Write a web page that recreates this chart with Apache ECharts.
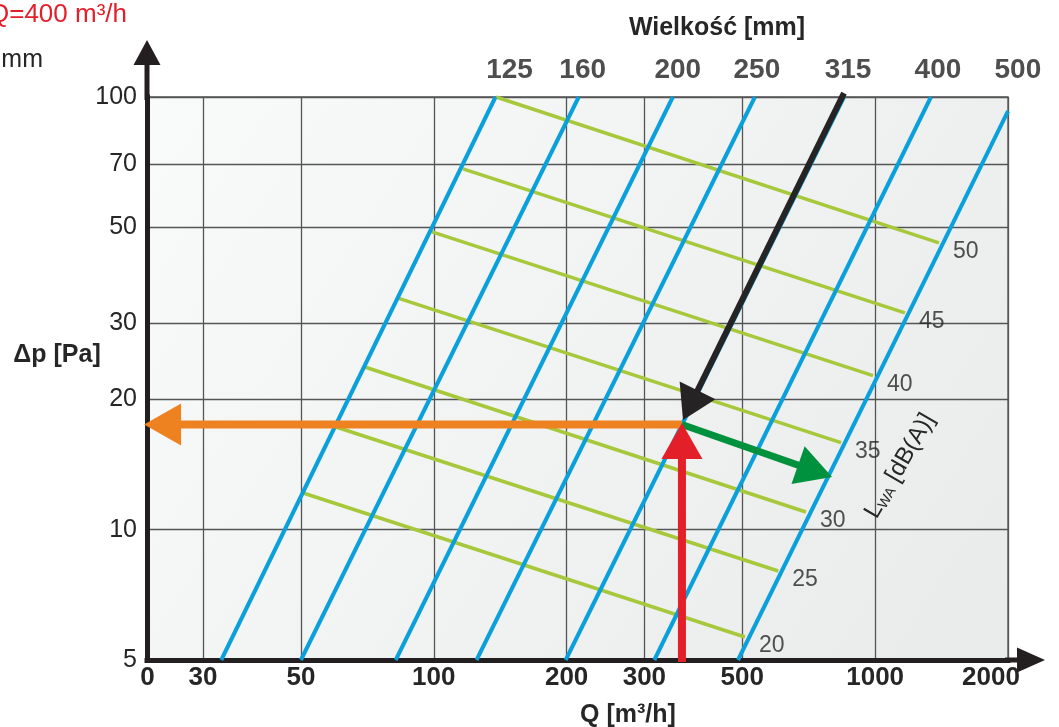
<!DOCTYPE html>
<html><head><meta charset="utf-8">
<script src="https://cdn.jsdelivr.net/npm/echarts@6/dist/echarts.min.js"></script>
<style>html,body{margin:0;padding:0;background:#fff}#c{width:1059px;height:727px}</style>
</head><body><div id="c"></div>
<script>
// ---------------- data ----------------
const xTickValues = [22.45, 30, 50, 100, 200, 300, 500, 1000, 2000];
const yTickValues = [5, 10, 20, 30, 50, 70, 100];
const ductSizes  = [125, 160, 200, 250, 315, 400, 500];
const ductStartQ = [33, 50, 82, 125, 199, 316, 489];
const ductStartP = [5, 5, 5, 5, 5, 5, 5];
const ductEndQ   = [138, 213, 348, 534, 850, 1338, 2000];
const ductEndP   = [100, 100, 100, 100, 100, 100, 92.8];
const noiseLevels = [20, 25, 30, 35, 40, 45, 50];
const noiseStartQ = [50.6, 59.8, 69.5, 83.0, 99.1, 116.5, 138.4];
const noiseStartP = [12.16, 17.3, 23.8, 34.3, 48.8, 68.2, 100];
const noiseEndQ   = [507, 603, 697, 837, 989, 1168, 1395];
const noiseEndP   = [5.65, 8.03, 10.99, 15.9, 22.7, 31.7, 46.0];
const arrowFromQ = [365, 365, 850, 365];
const arrowFromP = [17.5, 17.5, 102.1, 4.945];
const arrowToQ   = [22.06, 798.7, 367, 365];
const arrowToP   = [17.5, 13.24, 17.93, 17.65];

// ---------------- styles ----------------
const FONT = "'Liberation Sans', Arial, sans-serif";
const TXT = '#262626';
const sizeLabelDx = [14, 4, 5, 2, 4, 7, 3];
const arrowStyles = [
  {color: '#ef8220', width: 8, head: 37, hw: 42},
  {color: '#00913e', width: 7, head: 36, hw: 40},
  {color: '#262324', width: 6, head: 33, hw: 40},
  {color: '#e3202a', width: 8, head: 36, hw: 41}
];

// size label anchor: each duct line extended (log-log) to 100 Pa
const sizeLabelData = ductSizes.map((s, i) => {
  const l0q = Math.log10(ductStartQ[i]), l0p = Math.log10(ductStartP[i]);
  const l1q = Math.log10(ductEndQ[i]), l1p = Math.log10(ductEndP[i]);
  const t = (2 - l0p) / (l1p - l0p);
  return {value: [Math.pow(10, l0q + t * (l1q - l0q)), 100], name: String(s),
          label: {offset: [sizeLabelDx[i], 0]}};
});

const chart = echarts.init(document.getElementById('c'));
chart.setOption({
  animation: false,
  backgroundColor: '#ffffff',
  grid: {
    left: 147, right: 51, top: 97, bottom: 67,
    show: true,
    outerBoundsMode: 'none',
    backgroundColor: new echarts.graphic.LinearGradient(0, 0, 1, 1, [
      {offset: 0, color: '#f9fafa'}, {offset: 1, color: '#e9eaea'}
    ]),
    borderColor: '#555555', borderWidth: 1.3
  },
  xAxis: {
    type: 'log', logBase: 10, min: 22.4, max: 2000,
    axisLine: {
      show: true, onZero: false,
      lineStyle: {color: '#231f20', width: 5, cap: 'square'},
      symbol: ['none', 'path://M12.5,0 L25,28 L15,28 L15,40 L10,40 L10,28 L0,28 Z'],
      symbolSize: [25, 40], symbolOffset: [0, 17]
    },
    axisTick: {show: false, customValues: xTickValues},
    splitLine: {show: true, lineStyle: {color: '#555555', width: 1.3}},
    axisLabel: {
      customValues: xTickValues, margin: 5,
      fontFamily: FONT, fontSize: 26, fontWeight: 'bold', color: TXT,
      formatter: v => {
        const r = Math.round(v);
        if (r < 25) return '0';
        if (r === 2000) return '{r|2000}';
        return String(r);
      },
      rich: {r: {fontFamily: FONT, fontSize: 26, fontWeight: 'bold', color: TXT, padding: [0, 34, 0, 0]}}
    }
  },
  yAxis: {
    type: 'log', logBase: 10, min: 5, max: 100,
    axisLine: {
      show: true, onZero: false,
      lineStyle: {color: '#231f20', width: 5, cap: 'square'},
      symbol: ['none', 'path://M13.5,0 L27,25 L16,25 L16,60 L11,60 L11,25 L0,25 Z'],
      symbolSize: [27, 60], symbolOffset: [0, 27]
    },
    axisTick: {show: false, customValues: yTickValues},
    splitLine: {show: true, lineStyle: {color: '#555555', width: 1.3}},
    axisLabel: {
      customValues: yTickValues, margin: 10,
      fontFamily: FONT, fontSize: 25, color: TXT,
      formatter: v => String(Math.round(v))
    }
  },
  series: [
    {
      type: 'lines', coordinateSystem: 'cartesian2d', z: 2,
      lineStyle: {color: '#a7c83b', width: 3.5, opacity: 1},
      data: noiseLevels.map((n, i) => ({coords: [[noiseStartQ[i], noiseStartP[i]], [noiseEndQ[i], noiseEndP[i]]]}))
    },
    {
      type: 'lines', coordinateSystem: 'cartesian2d', z: 3,
      lineStyle: {color: '#0aa0dc', width: 4, opacity: 1},
      data: ductSizes.map((s, i) => ({coords: [[ductStartQ[i], ductStartP[i]], [ductEndQ[i], ductEndP[i]]]}))
    },
    {
      type: 'custom', z: 5, clip: false,
      dimensions: ['q0', 'p0', 'q1', 'p1'],
      encode: {x: [0, 2], y: [1, 3]},
      data: arrowFromQ.map((q, i) => [q, arrowFromP[i], arrowToQ[i], arrowToP[i]]),
      renderItem: function (params, api) {
        const st = arrowStyles[params.dataIndex];
        const a = api.coord([api.value(0), api.value(1)]);
        const b = api.coord([api.value(2), api.value(3)]);
        const dx = b[0] - a[0], dy = b[1] - a[1];
        const len = Math.hypot(dx, dy);
        const ux = dx / len, uy = dy / len, px = -uy, py = ux;
        const bx = b[0] - ux * st.head, by = b[1] - uy * st.head;
        return {
          type: 'group',
          children: [
            {type: 'line', shape: {x1: a[0], y1: a[1], x2: bx + ux * 3, y2: by + uy * 3},
             style: {stroke: st.color, lineWidth: st.width}},
            {type: 'polygon', shape: {points: [[b[0], b[1]],
               [bx + px * st.hw / 2, by + py * st.hw / 2], [bx - px * st.hw / 2, by - py * st.hw / 2]]},
             style: {fill: st.color}}
          ]
        };
      }
    },
    {
      type: 'scatter', z: 6, clip: false, symbolSize: 0, silent: true,
      itemStyle: {color: 'rgba(0,0,0,0)'},
      data: sizeLabelData,
      label: {
        show: true, position: 'top', distance: 13,
        formatter: p => p.name,
        fontFamily: FONT, fontSize: 28, fontWeight: 'bold', color: '#222222'
      }
    },
    {
      type: 'scatter', z: 6, clip: false, symbolSize: 0, silent: true,
      itemStyle: {color: 'rgba(0,0,0,0)'},
      data: noiseLevels.map((n, i) => ({value: [noiseEndQ[i], noiseEndP[i]], name: String(n)})),
      label: {
        show: true, position: 'right', distance: 14, offset: [0, 9],
        formatter: p => p.name,
        fontFamily: FONT, fontSize: 23, color: TXT
      }
    }
  ],
  graphic: [
    {type: 'text', x: 717, y: 28, style: {text: 'Wielkość [mm]', font: 'bold 25px ' + FONT, fill: TXT, align: 'center', verticalAlign: 'middle'}},
    {type: 'text', x: 57, y: 355, style: {text: 'Δp [Pa]', font: 'bold 25px ' + FONT, fill: TXT, align: 'center', verticalAlign: 'middle'}},
    {type: 'text', x: 628, y: 715, style: {text: 'Q [m³/h]', font: 'bold 25px ' + FONT, fill: TXT, align: 'center', verticalAlign: 'middle'}},
    {type: 'text', x: 127, y: 15, style: {text: 'Q=400 m³/h', font: '26px ' + FONT, fill: '#e3202a', align: 'right', verticalAlign: 'middle'}},
    {type: 'text', x: 43, y: 60, style: {text: 'mm', font: '25px ' + FONT, fill: TXT, align: 'right', verticalAlign: 'middle'}},
    {type: 'text', x: 900, y: 466, rotation: 60 * Math.PI / 180, z: 10,
     style: {text: '{l|L}{s|WA}{l| [dB(A)]}', align: 'center', verticalAlign: 'middle',
       rich: {l: {fontFamily: FONT, fontSize: 24, fill: TXT, color: TXT},
              s: {fontFamily: FONT, fontSize: 14, fill: TXT, color: TXT, verticalAlign: 'bottom', padding: [10, 0, 0, 0]}}}}
  ]
});
</script>
</body></html>
